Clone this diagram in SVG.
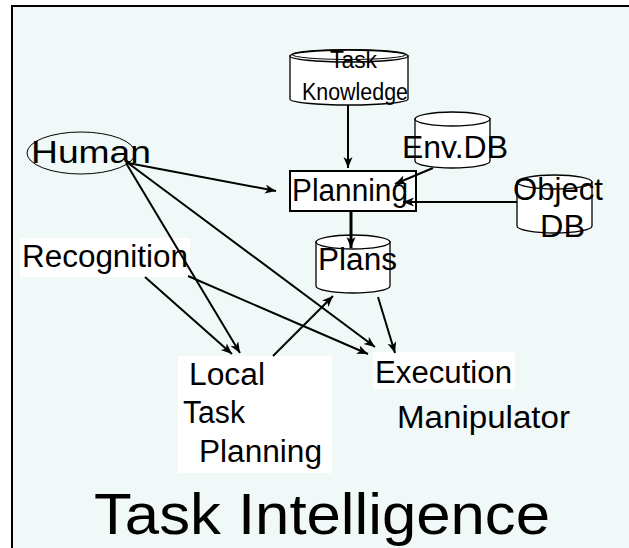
<svg xmlns="http://www.w3.org/2000/svg" width="629" height="548" viewBox="0 0 629 548">
<defs>
<marker id="ah" markerUnits="userSpaceOnUse" markerWidth="12" markerHeight="10" refX="11" refY="4.5" orient="auto">
<path d="M0,0 L11,4.5 L0,9 L3,4.5 z" fill="#000"/>
</marker>
</defs>
<style>
text{font-family:"Liberation Sans",Arial,sans-serif;fill:#000}
.lbl{font-size:31px}
.sm{font-size:23px}
.cyl{fill:#fff;stroke:#000;stroke-width:1.3}
.ln{stroke:#000;stroke-width:2;fill:none;marker-end:url(#ah)}
.wb{fill:#fff;stroke:none}
</style>
<rect x="0" y="0" width="629" height="548" fill="#fff"/>
<rect x="12" y="6" width="640" height="560" fill="#f0f9f8" stroke="#000" stroke-width="2"/>

<g id="task-knowledge">
<path class="cyl" d="M290,56 L290,99 A59,6 0 0 0 408,99 L408,56 Z"/>
<ellipse class="cyl" cx="349" cy="56" rx="59" ry="6"/>
<ellipse cx="349" cy="54.5" rx="57" ry="5" fill="none" stroke="#000" stroke-width="1"/>
<text class="sm" x="330" y="68" textLength="47" lengthAdjust="spacingAndGlyphs">Task</text>
<text class="sm" x="302" y="100" textLength="106" lengthAdjust="spacingAndGlyphs">Knowledge</text>
</g>

<g id="env-db">
<path class="cyl" d="M415,119 L415,161 A37.5,7 0 0 0 490,161 L490,119 Z"/>
<ellipse class="cyl" cx="452.5" cy="119" rx="37.5" ry="7"/>
<text class="lbl" x="402" y="158" textLength="106" lengthAdjust="spacingAndGlyphs">Env.DB</text>
</g>

<g id="object-db">
<path class="cyl" d="M517,182 L517,226 A37.5,7 0 0 0 592,226 L592,182 Z"/>
<ellipse class="cyl" cx="554.5" cy="182" rx="37.5" ry="7"/>
<text class="lbl" x="513" y="200" textLength="90" lengthAdjust="spacingAndGlyphs">Object</text>
<text class="lbl" x="540" y="237" textLength="45" lengthAdjust="spacingAndGlyphs">DB</text>
</g>

<g id="human">
<ellipse cx="81" cy="153" rx="54" ry="21" fill="none" stroke="#000" stroke-width="1"/>
<text class="lbl" x="31" y="163" textLength="120" lengthAdjust="spacingAndGlyphs">Human</text>
</g>

<g id="planning">
<rect x="290" y="171" width="126" height="40" fill="#fff" stroke="#000" stroke-width="2"/>
<text class="lbl" x="292" y="201" textLength="116" lengthAdjust="spacingAndGlyphs">Planning</text>
</g>

<g id="plans">
<path class="cyl" d="M316,242 L316,286 A37,7 0 0 0 390,286 L390,242 Z"/>
<ellipse class="cyl" cx="353" cy="242" rx="37" ry="7"/>
<text class="lbl" x="318" y="270" textLength="79" lengthAdjust="spacingAndGlyphs">Plans</text>
</g>

<g id="recognition">
<rect class="wb" x="20" y="238" width="170" height="39"/>
<text class="lbl" x="22" y="267" textLength="166" lengthAdjust="spacingAndGlyphs">Recognition</text>
</g>

<g id="local-task-planning">
<rect class="wb" x="178" y="356" width="154" height="117"/>
<text class="lbl" x="189" y="385" textLength="76" lengthAdjust="spacingAndGlyphs">Local</text>
<text class="lbl" x="183" y="423" textLength="62" lengthAdjust="spacingAndGlyphs">Task</text>
<text class="lbl" x="199" y="462" textLength="123" lengthAdjust="spacingAndGlyphs">Planning</text>
</g>

<g id="execution">
<rect class="wb" x="373" y="352" width="142" height="37"/>
<text class="lbl" x="375" y="383" textLength="137" lengthAdjust="spacingAndGlyphs">Execution</text>
</g>

<g id="manipulator">
<text class="lbl" x="397" y="428" textLength="173" lengthAdjust="spacingAndGlyphs">Manipulator</text>
</g>

<g id="title">
<text x="94" y="534" font-size="58" textLength="456" lengthAdjust="spacingAndGlyphs">Task Intelligence</text>
</g>

<g id="connectors">
<line class="ln" x1="348" y1="105" x2="348" y2="168"/>
<line class="ln" x1="433" y1="168" x2="395" y2="184"/>
<line class="ln" x1="517" y1="202" x2="403" y2="202"/>
<line class="ln" x1="351" y1="211" x2="351" y2="248" style="stroke-width:3"/>
<line class="ln" x1="128" y1="163" x2="276" y2="191"/>
<line class="ln" x1="126" y1="163" x2="240" y2="353"/>
<line class="ln" x1="128" y1="163" x2="375" y2="347"/>
<line class="ln" x1="145" y1="277" x2="232" y2="354"/>
<line class="ln" x1="188" y1="276" x2="368" y2="354"/>
<line class="ln" x1="273" y1="356" x2="333" y2="296"/>
<line class="ln" x1="378" y1="297" x2="395" y2="353"/>
</g>
</svg>
